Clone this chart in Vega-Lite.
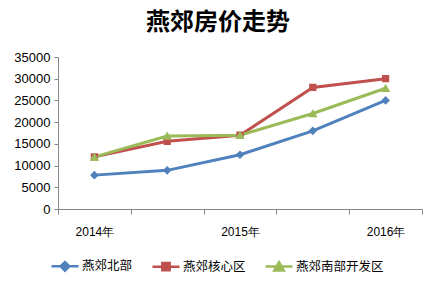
{
  "$schema": "https://vega.github.io/schema/vega-lite/v6.json",
  "autosize": {"type": "none"},
  "width": 364,
  "height": 152,
  "padding": {"left": 58, "top": 57, "right": 14, "bottom": 75},
  "background": "white",
  "title": {
    "text": "燕郊房价走势",
    "font": "Noto Sans CJK SC",
    "fontSize": 24,
    "fontWeight": "bold",
    "color": "#000000",
    "anchor": "middle",
    "dx": -22,
    "offset": 16
  },
  "config": {
    "view": {"stroke": null},
    "font": "Liberation Sans",
    "legend": {
      "orient": "none",
      "direction": "horizontal",
      "legendX": -8,
      "legendY": 194,
      "symbolSize": 729,
      "symbolStrokeWidth": 2.5,
      "labelFont": "Noto Sans CJK SC",
      "labelFontSize": 12.5,
      "labelColor": "#000000",
      "labelOffset": 2,
      "columnPadding": 14
    }
  },
  "data": {
    "values": [
      {"period": "2014年", "series": "燕郊北部", "price": 7800},
      {"period": "2014年下半年", "series": "燕郊北部", "price": 8900},
      {"period": "2015年", "series": "燕郊北部", "price": 12500},
      {"period": "2015年下半年", "series": "燕郊北部", "price": 18000},
      {"period": "2016年", "series": "燕郊北部", "price": 25000},
      {"period": "2014年", "series": "燕郊核心区", "price": 12000},
      {"period": "2014年下半年", "series": "燕郊核心区", "price": 15600},
      {"period": "2015年", "series": "燕郊核心区", "price": 17000},
      {"period": "2015年下半年", "series": "燕郊核心区", "price": 28000},
      {"period": "2016年", "series": "燕郊核心区", "price": 30000},
      {"period": "2014年", "series": "燕郊南部开发区", "price": 12000},
      {"period": "2014年下半年", "series": "燕郊南部开发区", "price": 16800},
      {"period": "2015年", "series": "燕郊南部开发区", "price": 17000},
      {"period": "2015年下半年", "series": "燕郊南部开发区", "price": 22000},
      {"period": "2016年", "series": "燕郊南部开发区", "price": 27800}
    ]
  },
  "encoding": {
    "x": {
      "field": "period",
      "type": "nominal",
      "sort": null,
      "scale": {"paddingInner": 0, "paddingOuter": 0},
      "axis": {
        "title": null,
        "labelAngle": 0,
        "labelExpr": "length(datum.label) > 5 ? '' : datum.label",
        "tickBand": "extent",
        "domainColor": "#868686",
        "tickColor": "#868686",
        "tickSize": 5,
        "labelPadding": 12,
        "labelFont": "Liberation Sans",
        "labelFontSize": 12,
        "labelColor": "#000000",
        "grid": false
      }
    },
    "y": {
      "field": "price",
      "type": "quantitative",
      "scale": {"domain": [0, 35000]},
      "axis": {
        "title": null,
        "values": [0, 5000, 10000, 15000, 20000, 25000, 30000, 35000],
        "format": "d",
        "grid": false,
        "domainColor": "#868686",
        "tickColor": "#868686",
        "tickSize": 4,
        "labelPadding": 4,
        "labelFont": "Liberation Sans",
        "labelFontSize": 13,
        "labelColor": "#000000"
      }
    }
  },
  "layer": [
    {
      "mark": {"type": "line", "strokeWidth": 3},
      "encoding": {
        "stroke": {
          "field": "series",
          "type": "nominal",
          "scale": {
            "domain": ["燕郊北部", "燕郊核心区", "燕郊南部开发区"],
            "range": ["#4F81BD", "#C0504D", "#9BBB59"]
          },
          "legend": {"title": null}
        }
      }
    },
    {
      "mark": {"type": "point", "filled": true, "opacity": 1, "size": 729, "strokeWidth": 0},
      "encoding": {
        "fill": {
          "field": "series",
          "type": "nominal",
          "scale": {
            "domain": ["燕郊北部", "燕郊核心区", "燕郊南部开发区"],
            "range": ["#4F81BD", "#C0504D", "#9BBB59"]
          },
          "legend": {"title": null}
        },
        "shape": {
          "field": "series",
          "type": "nominal",
          "scale": {
            "domain": ["燕郊北部", "燕郊核心区", "燕郊南部开发区"],
            "range": [
              "M-1,0H1M0,-0.32L0.32,0L0,0.32L-0.32,0Z",
              "M-1,0H1M-0.27,-0.27H0.27V0.27H-0.27Z",
              "M-1,0H1M0,-0.33L0.35,0.28H-0.35Z"
            ]
          },
          "legend": {"title": null}
        }
      }
    }
  ]
}
